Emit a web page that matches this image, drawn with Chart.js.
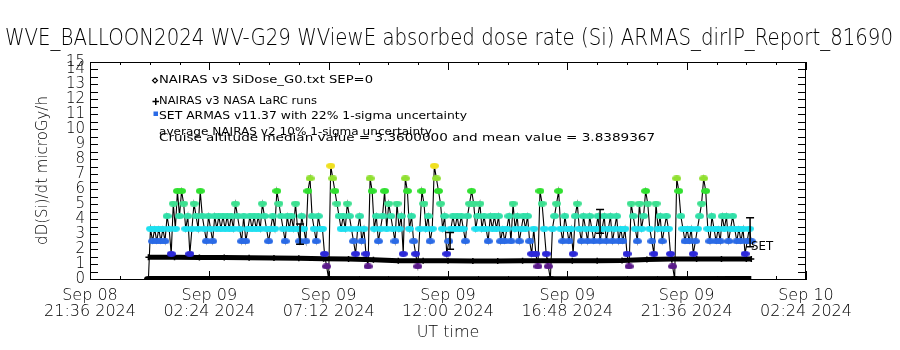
<!DOCTYPE html>
<html>
<head>
<meta charset="utf-8">
<script src="https://cdn.jsdelivr.net/npm/chart.js@4.4.1/dist/chart.umd.min.js"></script>
<style>
html,body{margin:0;padding:0;background:#fff;}
canvas{display:block;}
</style>
</head>
<body>
<canvas id="c" width="900" height="350"></canvas>
<script>
// ---------------- data (times in minutes since 2024-09-08 00:00 UT) ----------------
const chartTitle = "WVE_BALLOON2024 WV-G29 WViewE absorbed dose rate (Si) ARMAS_dirIP_Report_81690";
const yAxisTitle = "dD(Si)/dt microGy/h";
const xAxisTitle = "UT time";
const legendLabels = [
  "NAIRAS v3 SiDose_G0.txt SEP=0",
  "NAIRAS v3 NASA LaRC runs",
  "SET ARMAS v11.37 with 22% 1-sigma uncertainty",
  "average NAIRAS v2 10% 1-sigma uncertainty",
  "Cruise altitude median value = 3.3600000 and mean value = 3.8389367"
];
const setLabel = "SET";

const xMin = 1296;   // Sep 08 21:36
const xMax = 3024;   // Sep 10 02:24
const xTickMinutes = [1296, 1584, 1872, 2160, 2448, 2736, 3024];
const yMin = 0;
const yMax = 14.5;
const yTickValues = [0,1,2,3,4,5,6,7,8,9,10,11,12,13,14,14.5];
const yTickLabels = ["0","1","2","3","4","5","6","7","8","9","10","11","12","13","14","15"];

// SET ARMAS dose rate, one reading every 5 minutes starting Sep 08 23:57
const armasStartMin = 1437;
const armasStepMin = 5;
const armasDose = [
  0,3.36,2.52,3.36,2.52,3.36,2.52,3.36,2.52,4.20,
  3.36,1.68,5.04,3.36,5.88,4.20,5.88,5.04,3.36,4.20,
  1.68,3.36,5.04,4.20,3.36,5.88,4.20,3.36,2.52,4.20,
  3.36,2.52,4.20,3.36,4.20,3.36,4.20,3.36,4.20,3.36,
  4.20,3.36,5.04,4.20,3.36,2.52,4.20,2.52,3.36,4.20,
  3.36,4.20,3.36,4.20,3.36,5.04,4.20,3.36,2.52,3.36,
  4.20,3.36,5.88,5.04,4.20,3.36,2.52,4.20,3.36,4.20,
  3.36,5.04,3.36,2.52,4.20,3.36,2.52,5.88,6.72,4.20,
  3.36,2.52,4.20,3.36,3.36,1.68,0.84,0,7.56,6.72,
  5.88,5.04,4.20,3.36,4.20,3.36,5.04,4.20,3.36,2.52,
  1.68,3.36,4.20,2.52,3.36,1.68,0.84,6.72,5.88,3.36,
  4.20,2.52,3.36,4.20,5.88,3.36,5.04,4.20,3.36,2.52,
  5.04,3.36,4.20,1.68,6.72,5.88,3.36,4.20,2.52,1.68,
  0.84,3.36,5.88,5.04,3.36,4.20,2.52,3.36,7.56,6.72,
  5.88,5.04,3.36,4.20,1.68,2.52,3.36,4.20,3.36,4.20,
  3.36,4.20,3.36,2.52,4.20,5.04,5.88,5.04,3.36,4.20,
  5.04,3.36,4.20,3.36,2.52,4.20,3.36,4.20,3.36,4.20,
  2.52,3.36,2.52,3.36,4.20,2.52,5.04,3.36,4.20,2.52,
  3.36,4.20,3.36,4.20,2.52,1.68,3.36,1.68,0.84,5.88,
  5.04,3.36,1.68,0.84,0,3.36,4.20,5.04,5.88,3.36,
  2.52,4.20,3.36,2.52,3.36,1.68,4.20,5.04,3.36,2.52,
  4.20,3.36,2.52,4.20,3.36,2.52,3.36,4.20,2.52,3.36,
  4.20,2.52,3.36,4.20,2.52,3.36,4.20,2.52,3.36,2.52,
  3.36,1.68,0.84,5.04,4.20,3.36,2.52,5.04,3.36,4.20,
  5.88,5.04,3.36,2.52,1.68,5.04,3.36,4.20,2.52,3.36,
  4.20,3.36,1.68,0.84,0,6.72,5.88,4.20,3.36,2.52,
  3.36,2.52,3.36,1.68,2.52,3.36,4.20,5.04,6.72,5.88,
  3.36,2.52,4.20,3.36,2.52,3.36,2.52,4.20,3.36,4.20,
  2.52,3.36,4.20,3.36,2.52,3.36,2.52,3.36,1.68,2.52,
  3.36,2.52
];

// NAIRAS v3 NASA LaRC runs
const larcMinutes = [1437,1500,1560,1620,1680,1740,1800,1860,1920,1980,2040,2100,2160,2220,2280,2340,2400,2460,2520,2580,2640,2700,2760,2820,2880,2892];
const larcDose    = [1.45,1.45,1.44,1.43,1.42,1.40,1.38,1.35,1.33,1.28,1.22,1.22,1.22,1.21,1.21,1.22,1.22,1.22,1.22,1.23,1.30,1.33,1.33,1.33,1.34,1.34];

// NAIRAS v3 SiDose_G0.txt SEP=0
const siMinutes = [1437,1800,2160,2520,2880,2892];
const siDose    = [0.10,0.10,0.09,0.09,0.10,0.10];

// SET 1-sigma uncertainty bars
const errMinutes = [1803, 2165, 2527, 2889];
const errLow     = [2.33, 1.98, 3.05, 2.15];
const errHigh    = [3.67, 3.11, 4.65, 4.10];

// colour of each quantised ARMAS level
const levelValues = [0, 0.84, 1.68, 2.52, 3.36, 4.20, 5.04, 5.88, 6.72, 7.56];
const levelColors = ['#000000','#5a1a8a','#2c28d8','#2a6ae6','#1ee0f0','#30e0a8','#3ce090','#30e030','#90e030','#f0e020'];

// ---------------- helpers ----------------
function makeDot(color){
  const c = document.createElement('canvas');
  c.width = 9; c.height = 6;
  const g = c.getContext('2d');
  g.fillStyle = color;
  g.beginPath(); g.ellipse(4.5, 3, 4.5, 3, 0, 0, Math.PI*2); g.fill();
  return c;
}
const dots = levelColors.map(makeDot);
function dotFor(v){
  let best = 0, bd = 1e9;
  levelValues.forEach((lv,k)=>{ const d = Math.abs(lv - v); if (d < bd){ bd = d; best = k; } });
  return dots[best];
}
function pad2(n){ return (n < 10 ? '0' : '') + n; }
function fmtTime(v){
  const day = Math.floor(v / 1440);
  const rem = v - day*1440;
  const hh = Math.floor(rem / 60), mm = Math.round(rem - hh*60);
  return ['Sep ' + pad2(8 + day), pad2(hh) + ':' + pad2(mm) + ' 2024'];
}
function fitText(ctx, text, x, y, targetW, font){
  ctx.save();
  ctx.font = font;
  const w = ctx.measureText(text).width;
  ctx.translate(x, y);
  ctx.scale(targetW / w, 1);
  ctx.textAlign = 'left';
  ctx.textBaseline = 'alphabetic';
  ctx.fillStyle = '#000';
  ctx.fillText(text, 0, 0);
  ctx.restore();
}

const armasPoints = armasDose.map((v,i)=>({x: armasStartMin + i*armasStepMin, y: v}));
const larcPoints = larcMinutes.map((m,i)=>({x:m, y:larcDose[i]}));
const siPoints = siMinutes.map((m,i)=>({x:m, y:siDose[i]}));

// ---------------- plugins ----------------
const framePlugin = {
  id: 'frame',
  beforeDatasetsDraw(chart){
    const {ctx, chartArea:a, scales:{x, y}} = chart;
    ctx.save();
    ctx.strokeStyle = '#000';
    ctx.lineWidth = 1;
    ctx.beginPath();
    ctx.moveTo(a.left, a.top + 0.5); ctx.lineTo(a.right, a.top + 0.5);
    ctx.moveTo(a.right - 0.5, a.top); ctx.lineTo(a.right - 0.5, a.bottom);
    for (let k = 0; k <= 29; k++){
      const py = Math.round(y.getPixelForValue(k * 0.5)) + 0.5;
      const len = 8;
      ctx.moveTo(a.left, py); ctx.lineTo(a.left + len, py);
      ctx.moveTo(a.right, py); ctx.lineTo(a.right - len, py);
    }
    for (let m = xMin; m <= xMax; m += 72){
      const px = Math.round(x.getPixelForValue(m)) + 0.5;
      const len = ((m - xMin) % 288 === 0) ? 8 : 3;
      ctx.moveTo(px, a.bottom); ctx.lineTo(px, a.bottom - len);
      ctx.moveTo(px, a.top); ctx.lineTo(px, a.top + len);
    }
    ctx.stroke();
    ctx.restore();
  },
  afterDatasetsDraw(chart){
    const {ctx, scales:{x, y}} = chart;
    ctx.save();
    ctx.strokeStyle = '#000';
    ctx.lineWidth = 1.5;
    ctx.beginPath();
    errMinutes.forEach((m,i)=>{
      const px = x.getPixelForValue(m);
      const pt = y.getPixelForValue(errHigh[i]);
      const pb = y.getPixelForValue(errLow[i]);
      ctx.moveTo(px, pt); ctx.lineTo(px, pb);
      ctx.moveTo(px - 4, pt); ctx.lineTo(px + 4, pt);
      ctx.moveTo(px - 4, pb); ctx.lineTo(px + 4, pb);
    });
    ctx.stroke();
    ctx.restore();
    const lx = x.getPixelForValue(errMinutes[errMinutes.length-1]) + 1;
    const ly = y.getPixelForValue(errLow[errLow.length-1]) + 3;
    fitText(ctx, setLabel, lx, ly, 22, '13px "DejaVu Sans"');
  },
  afterDraw(chart){
    const ctx = chart.ctx;
    fitText(ctx, chartTitle, 5, 45, 888, '200 23px "DejaVu Sans"');
    fitText(ctx, legendLabels[0], 159, 83, 214, '11px "DejaVu Sans"');
    fitText(ctx, legendLabels[1], 159, 104, 158, '11px "DejaVu Sans"');
    fitText(ctx, legendLabels[2], 159, 119, 308, '11px "DejaVu Sans"');
    fitText(ctx, legendLabels[3], 159, 135, 273, '11px "DejaVu Sans"');
    fitText(ctx, legendLabels[4], 159, 141, 496, '11px "DejaVu Sans"');
    ctx.save();
    ctx.strokeStyle = '#000'; ctx.lineWidth = 1.2;
    ctx.beginPath();
    ctx.moveTo(155, 78); ctx.lineTo(157.5, 80.5); ctx.lineTo(155, 83); ctx.lineTo(152.5, 80.5); ctx.closePath();
    ctx.stroke();
    ctx.lineWidth = 1.5;
    ctx.beginPath();
    ctx.moveTo(152.5, 101.5); ctx.lineTo(159, 101.5);
    ctx.moveTo(155.75, 98); ctx.lineTo(155.75, 105);
    ctx.stroke();
    ctx.fillStyle = levelColors[3];
    ctx.fillRect(153.5, 111.5, 4.5, 4.5);
    ctx.restore();
  }
};

new Chart(document.getElementById('c'), {
  type: 'line',
  data: {
    datasets: [
      { label: legendLabels[2], data: armasPoints, borderColor:'#000', borderWidth:1.1,
        pointStyle: ctx => dotFor(ctx.raw ? ctx.raw.y : 0), pointRadius:3, pointHoverRadius:3,
        tension:0, fill:false },
      { label: legendLabels[1], data: larcPoints, borderColor:'#000', borderWidth:5,
        pointStyle:'cross', pointRadius:3, pointBorderColor:'#000', pointBorderWidth:1.5, tension:0, fill:false },
      { label: legendLabels[0], data: siPoints, borderColor:'#000', borderWidth:3,
        pointRadius:0, tension:0, fill:false }
    ]
  },
  options: {
    responsive:false, animation:false, devicePixelRatio:1, events:[],
    layout:{ padding:{ top:62, right:94, left:0, bottom:0 } },
    plugins:{ legend:{display:false}, tooltip:{enabled:false}, title:{display:false} },
    scales:{
      x:{ type:'linear', min:xMin, max:xMax,
        afterBuildTicks: s => { s.ticks = xTickMinutes.map(v=>({value:v})); },
        afterFit: s => { s.height = 71; },
        grid:{ drawOnChartArea:false, drawTicks:false },
        border:{ display:true, color:'#000', width:1 },
        ticks:{ autoSkip:false, maxRotation:0, minRotation:0, padding:8, color:'#000',
          font:{ family:'DejaVu Sans', size:16, weight:'200', lineHeight:1.05 },
          callback: v => fmtTime(v) },
        title:{ display:true, text:xAxisTitle, color:'#000',
          font:{ family:'DejaVu Sans', size:16, weight:'200', lineHeight:1.2 }, padding:{top:0, bottom:8} }
      },
      y:{ type:'linear', min:yMin, max:yMax,
        afterBuildTicks: s => { s.ticks = yTickValues.map(v=>({value:v})); },
        afterFit: s => { s.width = 90; },
        grid:{ drawOnChartArea:false, drawTicks:false },
        border:{ display:true, color:'#000', width:1 },
        ticks:{ autoSkip:false, padding:5, color:'#000',
          font:{ family:'DejaVu Sans', size:15, weight:'200' },
          callback: (v, i) => yTickLabels[i] },
        title:{ display:true, text:yAxisTitle, color:'#000',
          font:{ family:'DejaVu Sans', size:15, weight:'200', lineHeight:1.2 }, padding:{top:34, bottom:0} }
      }
    }
  },
  plugins:[framePlugin]
});
</script>
</body>
</html>
